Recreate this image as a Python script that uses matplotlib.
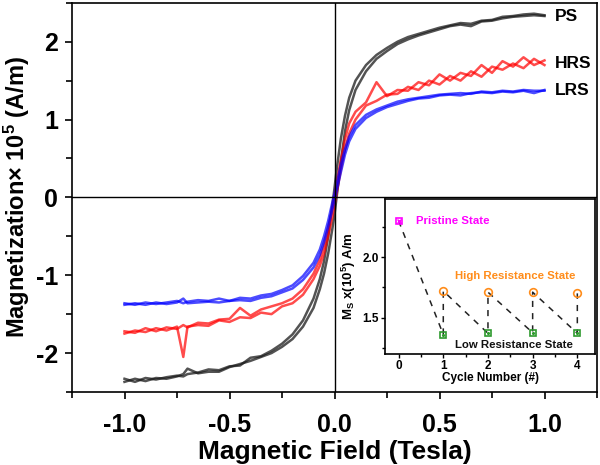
import matplotlib
matplotlib.use("Agg")
import matplotlib.pyplot as plt
from matplotlib.ticker import MultipleLocator

plt.rcParams['font.family'] = ['Liberation Sans', 'DejaVu Sans']
plt.rcParams['font.weight'] = 'bold'
plt.rcParams['axes.unicode_minus'] = False
plt.rcParams['mathtext.fontset'] = 'custom'
plt.rcParams['mathtext.rm'] = 'Liberation Sans:bold'
plt.rcParams['mathtext.bf'] = 'Liberation Sans:bold'
plt.rcParams['mathtext.default'] = 'bf'

# field values (Tesla), shared by all branches
field = [-1.0, -0.95, -0.9, -0.85, -0.8, -0.75, -0.72, -0.7, -0.65, -0.6,
         -0.55, -0.5, -0.45, -0.4, -0.35, -0.3, -0.25, -0.2, -0.15, -0.1,
         -0.07, -0.05, -0.03, -0.01, 0.0, 0.01, 0.03, 0.05, 0.07, 0.1,
         0.15, 0.2, 0.25, 0.3, 0.35, 0.4, 0.45, 0.5, 0.55, 0.6,
         0.65, 0.7, 0.75, 0.8, 0.85, 0.9, 0.95, 1.0]

# pristine state loop
ps_up = [-2.37, -2.33, -2.36, -2.32, -2.33, -2.30, -2.27, -2.20, -2.26, -2.24,
         -2.24, -2.18, -2.14, -2.10, -2.05, -2.00, -1.92, -1.82, -1.66, -1.42,
         -1.18, -0.98, -0.72, -0.40, -0.22, 0.00, 0.45, 0.85, 1.12, 1.38,
         1.62, 1.78, 1.88, 1.97, 2.03, 2.08, 2.12, 2.16, 2.20, 2.22,
         2.20, 2.26, 2.27, 2.30, 2.32, 2.33, 2.34, 2.33]
ps_down = [-2.33, -2.37, -2.32, -2.34, -2.31, -2.29, -2.30, -2.27, -2.25, -2.21,
           -2.22, -2.17, -2.16, -2.06, -2.04, -1.97, -1.88, -1.76, -1.58, -1.30,
           -1.05, -0.82, -0.50, -0.10, 0.12, 0.35, 0.75, 1.05, 1.28, 1.50,
           1.70, 1.83, 1.92, 2.00, 2.06, 2.10, 2.14, 2.18, 2.21, 2.24,
           2.23, 2.27, 2.28, 2.32, 2.33, 2.35, 2.36, 2.34]

# high resistance state loop
hrs_up = [-1.75, -1.71, -1.73, -1.68, -1.71, -1.66, -2.05, -1.66, -1.64, -1.65,
          -1.58, -1.60, -1.54, -1.55, -1.48, -1.50, -1.40, -1.36, -1.25, -1.05,
          -0.88, -0.72, -0.50, -0.25, -0.10, 0.05, 0.35, 0.62, 0.82, 1.00,
          1.18, 1.24, 1.32, 1.33, 1.42, 1.38, 1.50, 1.45, 1.56, 1.50,
          1.62, 1.55, 1.68, 1.64, 1.72, 1.66, 1.78, 1.70]
hrs_down = [-1.72, -1.74, -1.68, -1.72, -1.67, -1.69, -1.64, -1.67, -1.61, -1.62,
            -1.57, -1.56, -1.42, -1.52, -1.44, -1.40, -1.36, -1.30, -1.18, -0.98,
            -0.80, -0.62, -0.40, -0.12, 0.02, 0.18, 0.48, 0.75, 0.95, 1.10,
            1.22, 1.48, 1.30, 1.38, 1.37, 1.48, 1.44, 1.58, 1.50, 1.60,
            1.56, 1.70, 1.60, 1.75, 1.68, 1.80, 1.70, 1.76]

# low resistance state loop
lrs_up = [-1.38, -1.36, -1.38, -1.35, -1.37, -1.35, -1.30, -1.36, -1.35, -1.34,
          -1.35, -1.33, -1.32, -1.33, -1.29, -1.27, -1.22, -1.17, -1.06, -0.90,
          -0.74, -0.58, -0.38, -0.15, -0.04, 0.08, 0.32, 0.55, 0.72, 0.88,
          1.02, 1.10, 1.16, 1.20, 1.24, 1.27, 1.28, 1.31, 1.32, 1.31,
          1.34, 1.35, 1.34, 1.36, 1.35, 1.37, 1.34, 1.38]
lrs_down = [-1.36, -1.38, -1.35, -1.37, -1.35, -1.33, -1.36, -1.34, -1.32, -1.33,
            -1.30, -1.33, -1.29, -1.30, -1.26, -1.24, -1.19, -1.13, -1.01, -0.84,
            -0.67, -0.50, -0.30, -0.06, 0.05, 0.17, 0.42, 0.62, 0.78, 0.93,
            1.06, 1.13, 1.18, 1.23, 1.26, 1.28, 1.30, 1.32, 1.33, 1.34,
            1.33, 1.36, 1.35, 1.37, 1.36, 1.38, 1.37, 1.37]

# inset: saturation magnetization vs cycle
pristine_cycle = [0]
pristine_ms = [2.30]
cycles = [1, 2, 3, 4]
hrs_ms = [1.72, 1.71, 1.71, 1.70]
lrs_ms = [1.36, 1.37, 1.375, 1.37]

fig = plt.figure(figsize=(6, 4.65), dpi=100)
ax = fig.add_axes([0.12, 0.157, 0.875, 0.837])

loops = [(ps_up, ps_down, '#1a1a1a', 0.75),
         (hrs_up, hrs_down, '#ff0000', 0.7),
         (lrs_up, lrs_down, '#0000ff', 0.7)]
for up, down, col, a in loops:
    ax.plot(field, up, color=col, alpha=a, lw=1.8)
    ax.plot(field, down, color=col, alpha=a, lw=1.8)

ax.axhline(0, color='black', lw=1)
ax.axvline(0, color='black', lw=1)

ax.text(1.05, ps_up[-1], 'PS', fontsize=12.5, fontweight='bold', va='center')
ax.text(1.05, hrs_down[-1] - 0.04, 'HRS', fontsize=12.5, fontweight='bold', va='center')
ax.text(1.05, lrs_down[-1], 'LRS', fontsize=12.5, fontweight='bold', va='center')

ax.set_xlim(-1.25, 1.25)
ax.set_ylim(-2.5, 2.5)
ax.xaxis.set_major_locator(MultipleLocator(0.5))
ax.xaxis.set_minor_locator(MultipleLocator(0.25))
ax.yaxis.set_major_locator(MultipleLocator(1))
ax.yaxis.set_minor_locator(MultipleLocator(0.5))
ax.set_xticks([-1.0, -0.5, 0.0, 0.5, 1.0])
ax.set_xticklabels(['-1.0', '-0.5', '0.0', '0.5', '1.0'])
ax.tick_params(which='both', direction='out', width=1.2, labelsize=18)
ax.tick_params(which='major', length=5)
ax.tick_params(which='minor', length=4)
ax.tick_params(axis='x', pad=10)
ax.tick_params(axis='y', pad=5)
for lab in ax.get_xticklabels() + ax.get_yticklabels():
    lab.set_fontweight('bold')
for s in ax.spines.values():
    s.set_linewidth(1.2)
ax.set_xlabel('Magnetic Field (Tesla)', fontsize=19, fontweight='bold', labelpad=2)
ax.set_ylabel('Magnetization$\\times$ 10$^5$ (A/m)', fontsize=17,
              fontweight='bold', labelpad=3)

# inset
ins = fig.add_axes([0.642, 0.239, 0.35, 0.333])
path_x = pristine_cycle[:]
path_y = pristine_ms[:]
for c, lo, hi in zip(cycles, lrs_ms, hrs_ms):
    path_x += [c, c]
    path_y += [lo, hi]
ins.plot(path_x, path_y, color='#222222', ls=(0, (4, 4)), lw=1.1)
ins.plot(pristine_cycle, pristine_ms, 's', ms=5, mfc='none', mec='#ff00ff', mew=1.2)
ins.plot(pristine_cycle, pristine_ms, 'x', ms=3, color='#ff00ff', mew=1)
ins.plot(cycles, hrs_ms, 'o', ms=5.5, mfc='none', mec='#ff8c1a', mew=1.2)
ins.plot(cycles, lrs_ms, 's', ms=5, mfc='none', mec='#2e9a2e', mew=1.2)
ins.plot(cycles, lrs_ms, '.', ms=2.5, color='#2e9a2e')

ins.text(0.38, 2.30, 'Pristine State', color='#ff00ff', fontsize=8.2,
         fontweight='bold', va='center')
ins.text(1.26, 1.84, 'High Resistance State', color='#ff8c1a', fontsize=8.2,
         fontweight='bold', va='center')
ins.text(1.26, 1.27, 'Low Resistance State', color='#111111', fontsize=8.2,
         fontweight='bold', va='center')

ins.set_xlim(-0.3, 4.4)
ins.set_ylim(1.2, 2.48)
ins.xaxis.set_major_locator(MultipleLocator(1))
ins.xaxis.set_minor_locator(MultipleLocator(0.5))
ins.yaxis.set_major_locator(MultipleLocator(0.5))
ins.yaxis.set_minor_locator(MultipleLocator(0.25))
ins.tick_params(which='both', direction='out', width=1, labelsize=8.5, pad=1.5)
ins.tick_params(which='major', length=3)
ins.tick_params(which='minor', length=2)
for lab in ins.get_xticklabels() + ins.get_yticklabels():
    lab.set_fontweight('bold')
for s in ins.spines.values():
    s.set_linewidth(1.2)
ins.set_xlabel('Cycle Number (#)', fontsize=8.5, fontweight='bold', labelpad=0)
ins.set_ylabel('M$_S$ x(10$^5$) A/m', fontsize=9.5, fontweight='bold', labelpad=3)

fig.savefig('out.png', dpi=100)
